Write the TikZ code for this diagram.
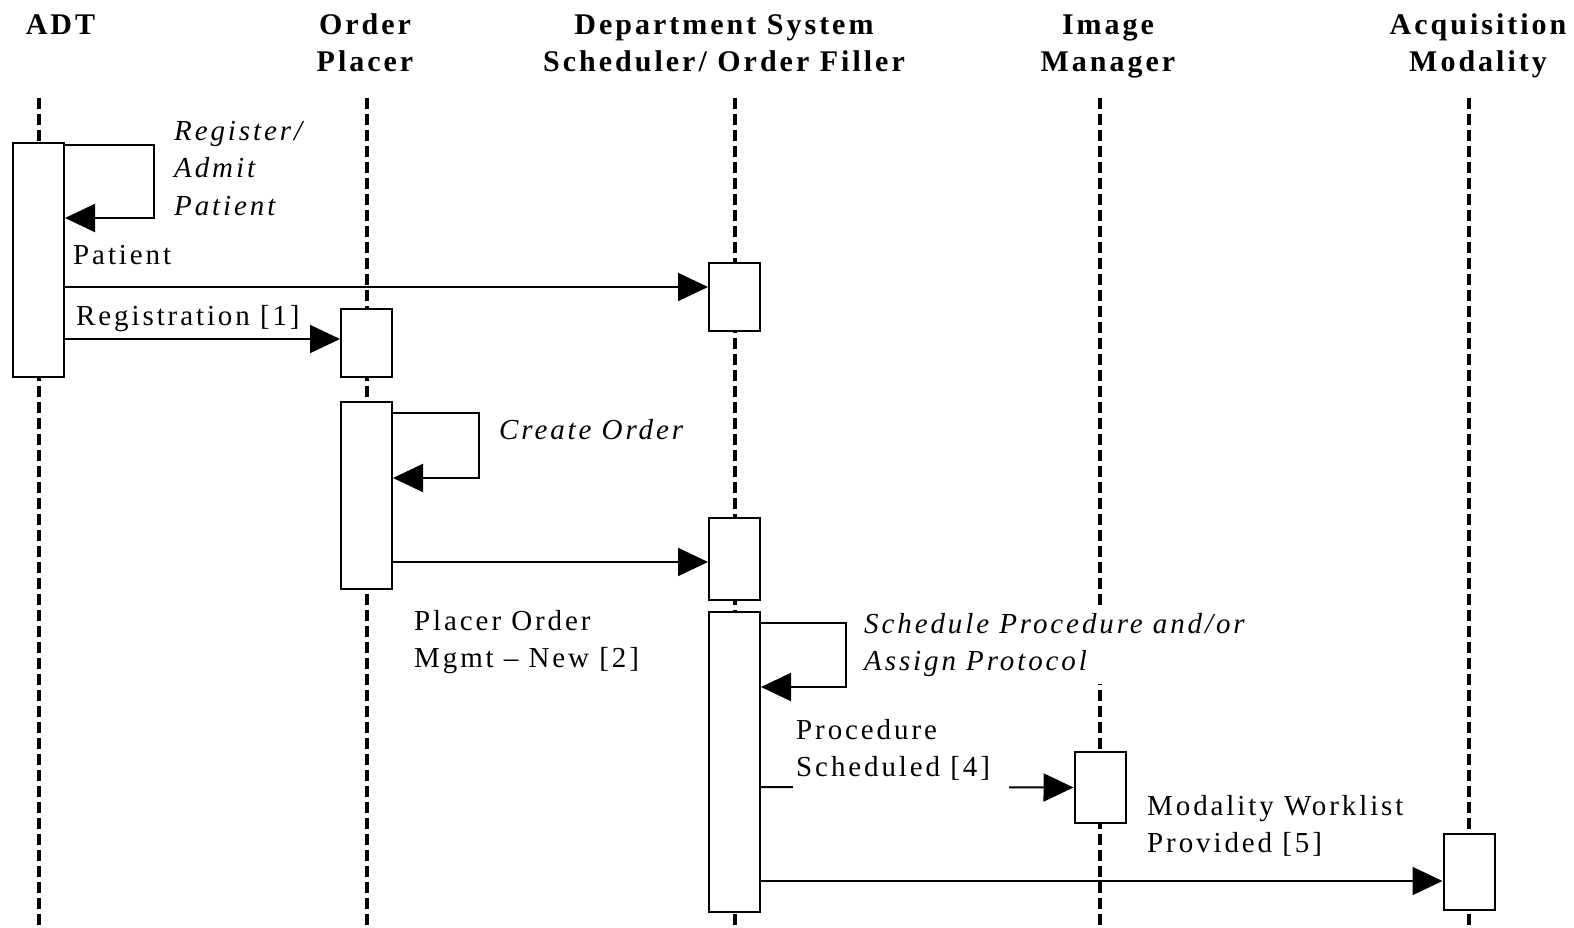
\documentclass[tikz,border=0pt]{standalone}
\usepackage{fontspec}
\setmainfont{Liberation Serif}[LetterSpace=10]
\usetikzlibrary{arrows.meta,positioning}
\tikzset{>={Triangle[length=30pt,width=28pt]}}
\tikzset{
  lifeline/.style={line width=4pt, dash pattern=on 11pt off 5pt},
  actbox/.style={draw, fill=white, line width=2pt, minimum width=51pt, inner sep=0pt},
  msg/.style={->, line width=2pt},
  head/.style={font=\fontsize{30}{37}\selectfont\bfseries, align=center, inner sep=0pt, anchor=base},
  lbl/.style={font=\fontsize{29}{37}\selectfont, align=left, inner sep=0pt, anchor=base west},
  act/.style={lbl, font=\fontsize{29}{37}\selectfont\itshape},
}
\begin{document}
\begin{tikzpicture}[x=1pt,y=-1pt]
  \useasboundingbox (0,0) rectangle (1574,928);

  % Headers (base = last line)
  \node[head] (adtHead) at (60.5,35)  {ADT};
  \node[head] (opHead)  at (365,72)   {Order\\Placer};
  \node[head] (dssHead) at (724,72)   {Department System\\Scheduler/ Order Filler};
  \node[head] (imHead)  at (1108,72)  {Image\\Manager};
  \node[head] (amHead)  at (1478,72)  {Acquisition\\Modality};

  % Lifelines
  \foreach \x in {38.5,366.5,734.5,1100,1469}
    \draw[lifeline] (\x,98) -- (\x,928);

  % Activation boxes
  \node[actbox, minimum height=234pt] (adtA) at (38.5,260)  {};
  \node[actbox, minimum height=68pt]  (opA)  at (366.5,343) {};
  \node[actbox, minimum height=187pt] (opB)  at (366.5,495.5) {};
  \node[actbox, minimum height=68pt]  (dssA) at (734.5,297) {};
  \node[actbox, minimum height=82pt]  (dssB) at (734.5,559) {};
  \node[actbox, minimum height=300pt] (dssC) at (734.5,762) {};
  \node[actbox, minimum height=71pt]  (imA)  at (1100,787.5) {};
  \node[actbox, minimum height=76pt]  (amA)  at (1469,872) {};

  % Messages
  \draw[msg] (adtA.east |- 0,145) -| (154,218) -- (adtA.east |- 0,218);
  \draw[msg] (adtA.east |- 0,287) -- (dssA.west |- 0,287);
  \draw[msg] (adtA.east |- 0,339) -- (opA.west |- 0,339);
  \draw[msg] (opB.east |- 0,413) -| (479,478) -- (opB.east |- 0,478);
  \draw[msg] (opB.east |- 0,562) -- (dssB.west |- 0,562);
  \draw[msg] (dssC.east |- 0,623) -| (846,687) -- (dssC.east |- 0,687);
  \draw[msg] (dssC.east |- 0,787) -- (imA.west);
  \draw[msg] (dssC.east |- 0,881) -- (amA.west |- 0,881);

  % Labels (base = last line)
  \node[act] (regAct)   at (174,215) {Register/\\Admit\\Patient};
  \node[lbl] (patLbl)   at (73,265)  {Patient};
  \node[lbl] (regLbl)   at (76,325)  {Registration [1]};
  \node[act] (orderAct) at (499,439) {Create Order};
  \node[lbl] (pomLbl)   at (414,667) {Placer Order\\Mgmt – New [2]};
  \node[act, fill=white, inner ysep=8pt] (schedAct) at (864,670)
    {Schedule Procedure and/or\\Assign Protocol};
  \node[lbl, fill=white, inner xsep=3pt, inner ysep=13pt] (psLbl) at (793,776)
    {Procedure\\Scheduled [4]\hspace*{16pt}};
  \node[lbl] (mwlLbl)   at (1147,852) {Modality Worklist\\Provided [5]};
\end{tikzpicture}
\end{document}
